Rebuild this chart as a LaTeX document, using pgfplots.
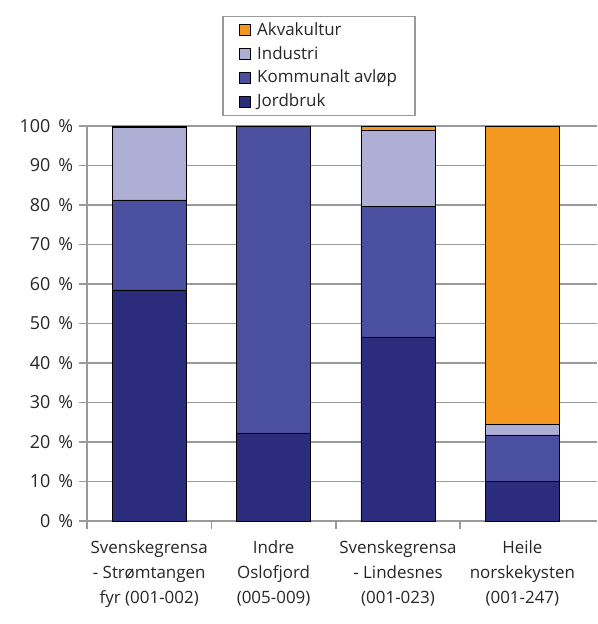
\documentclass[border=0pt]{standalone}
\usepackage{pgfplots}
\pgfplotsset{compat=1.18}
\usepackage{fontspec}
\setmainfont{Open Sans}
\definecolor{jord}{HTML}{2B2D7C}
\definecolor{komm}{HTML}{4B4FA0}
\definecolor{indu}{HTML}{AFAFD6}
\definecolor{akva}{HTML}{F39720}
\definecolor{gridg}{HTML}{9A9A9A}
\begin{document}
\fontsize{17}{21}\selectfont
\begin{tikzpicture}
\begin{axis}[
  width=510bp, height=395bp, scale only axis,
  ybar stacked, bar width=0.595,
  xmin=-0.5, xmax=3.6, ymin=0, ymax=100,
  axis x line*=bottom, axis y line*=left,
  axis line style={gridg, line width=1.5pt},
  xtick={0,1,2,3},
  xticklabels={{Svenskegrensa\\- Strømtangen\\fyr (001-002)},{Indre\\Oslofjord\\(005-009)},{Svenskegrensa\\- Lindesnes\\(001-023)},{Heile\\norskekysten\\(001-247)}},
  xticklabel style={align=center, text=black!85, font=\fontsize{17}{25}\selectfont, yshift=-6bp},
  major x tick style={draw=none},
  minor xtick={-0.5,0.5,1.5,2.5},
  minor x tick style={gridg, line width=1.5pt},
  ytick={0,10,...,100},
  yticklabel={\pgfmathprintnumber{\tick}\hspace{0.45em}\%},
  yticklabel style={text=black!85, font=\fontsize{18}{21}\selectfont},
  /pgf/number format/assume math mode=true,
  y tick style={gridg, line width=1.5pt},
  tick align=outside, major tick length=8bp, minor tick length=8bp,
  ymajorgrids, grid style={gridg, line width=1.5pt},
  legend style={at={(0.455,1.025)}, anchor=south, draw=gridg, line width=1.5pt,
    font=\fontsize{17}{21}\selectfont, text=black!85, inner xsep=16pt, inner ysep=4pt,
    cells={anchor=west}, row sep=4.5bp},
  legend image code/.code={\draw[#1, draw=black, line width=0.5pt] (0cm,-0.2cm) rectangle (0.4cm,0.2cm);
    \path (0.55cm,0cm);},
  reverse legend,
  every axis plot/.append style={draw=black, line width=0.6pt},
]
\addplot[fill=jord] coordinates {(0,58.5) (1,22.3) (2,46.6) (3,10.1)};
\addplot[fill=komm] coordinates {(0,22.8) (1,77.7) (2,33.1) (3,11.7)};
\addplot[fill=indu] coordinates {(0,18.3) (1,0) (2,19.3) (3,2.8)};
\addplot[fill=akva] coordinates {(0,0.4) (1,0) (2,1.0) (3,75.4)};
\legend{Jordbruk,Kommunalt avløp,Industri,Akvakultur}
\end{axis}
\path (current axis.south west) ++(-87bp,-103bp) rectangle ++(597bp,624bp);
\end{tikzpicture}
\end{document}
